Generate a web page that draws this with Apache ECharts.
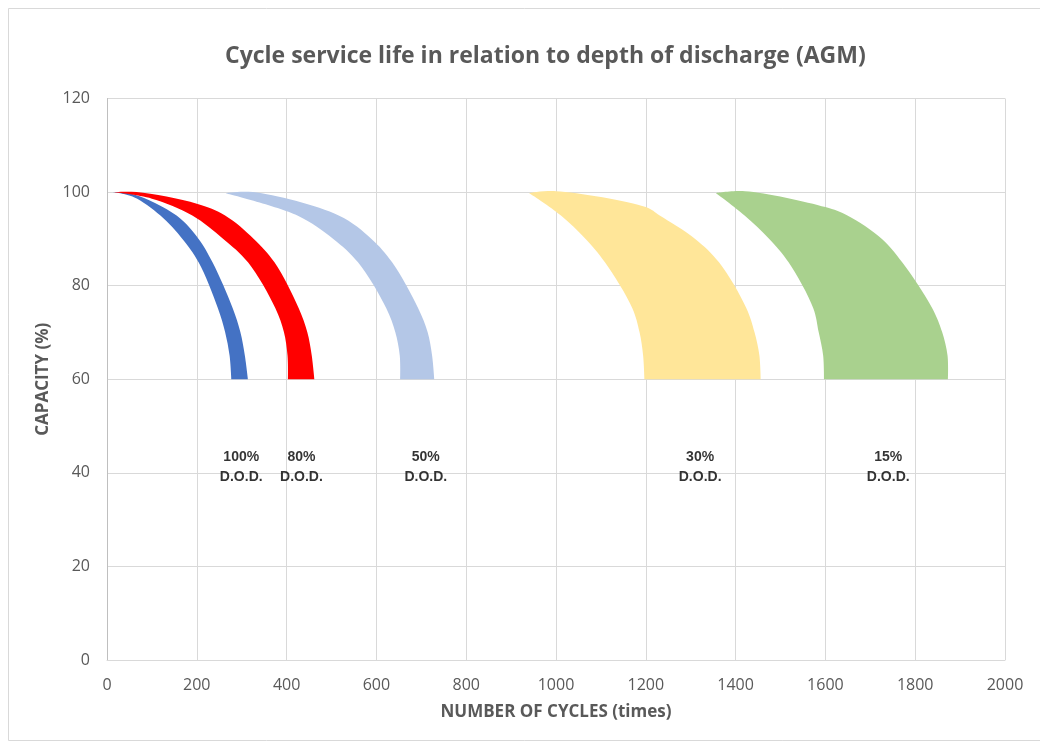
<!DOCTYPE html>
<html>
<head>
<meta charset="utf-8">
<script src="https://cdn.jsdelivr.net/npm/echarts@6/dist/echarts.min.js"></script>
<style>
  html, body { margin: 0; padding: 0; background: #fff; }
  #chart { width: 1040px; height: 747px; }
</style>
</head>
<body>
<div id="chart"></div>
<script>
// 每条带子：左（内）边、右（外）边，从顶部到 60% 处，读图估计
const dod100Inner = [[12, 100], [60, 98.9], [119, 95], [168, 90], [204, 85], [247, 75.2], [263, 70.1], [273, 65.1], [277, 60]]
const dod100Outer = [[12, 100], [60, 99.5], [155, 95], [204, 90], [235, 85], [280, 75.2], [297, 70.1], [307, 65.1], [314, 60]]
const dod80Inner = [[12, 100], [100, 98.6], [190, 95], [259, 90], [314, 85], [375, 75.2], [394, 70.1], [402, 65.1], [403, 60]]
const dod80Outer = [[12, 100], [66, 100], [200, 97.5], [263, 95], [327, 90], [373, 85], [427, 75.2], [446, 70.1], [456, 65.1], [462, 60]]
const dod50Inner = [[262, 99.8], [424, 95], [504, 90], [559, 85], [622, 75.2], [642, 70.1], [652, 65.1], [653, 60]]
const dod50Outer = [[262, 99.8], [325, 100], [516, 95], [589, 90], [635, 85], [693, 75.2], [714, 70.1], [724, 65.1], [729, 60]]
const dod30Inner = [[940, 99.8], [1011, 95], [1066, 90], [1109, 85], [1170, 75.2], [1186, 70.1], [1194, 65.1], [1197, 60]]
const dod30Outer = [[940, 99.8], [1000, 100.2], [1200, 96.8], [1231, 95], [1310, 90], [1363, 85], [1424, 75.2], [1442, 70.1], [1453, 65.1], [1456, 60]]
const dod15Inner = [[1356, 99.8], [1420, 95], [1475, 90], [1518, 85], [1573, 75.2], [1585, 70.1], [1595, 65.1], [1597, 60]]
const dod15Outer = [[1356, 99.8], [1421, 100.2], [1600, 96.8], [1649, 95], [1726, 90], [1771, 85], [1838, 75.2], [1860, 70.1], [1872, 65.1], [1873, 60]]

const bandLabels = ['100%\nD.O.D.', '80%\nD.O.D.', '50%\nD.O.D.', '30%\nD.O.D.', '15%\nD.O.D.']
const labelX = [299, 433, 710, 1321, 1740]
const labelY = [41.2, 41.2, 41.2, 41.2, 41.2]

const bands = [
  { inner: dod100Inner, outer: dod100Outer, color: '#4472C4' },
  { inner: dod80Inner, outer: dod80Outer, color: '#FF0000' },
  { inner: dod50Inner, outer: dod50Outer, color: '#B4C7E7' },
  { inner: dod30Inner, outer: dod30Outer, color: '#FFE699' },
  { inner: dod15Inner, outer: dod15Outer, color: '#A9D18E' }
]

// 向心 Catmull-Rom 转三次贝塞尔（点已是像素坐标），避免点距不均时打结
function splinePath(P, move) {
  const f = v => v.toFixed(2)
  const dist = (a, b) => Math.pow(Math.hypot(b[0] - a[0], b[1] - a[1]), 0.5)
  let d = (move ? 'M' : 'L') + f(P[0][0]) + ',' + f(P[0][1])
  for (let i = 0; i < P.length - 1; i++) {
    const p1 = P[i]
    const p2 = P[i + 1]
    const p0 = P[i - 1]
    const p3 = P[i + 2]
    const d2 = dist(p1, p2)
    let c1 = p1
    let c2 = p2
    if (p0) {
      const d1 = dist(p0, p1)
      if (d1 > 0) {
        const k = 3 * d1 * (d1 + d2)
        c1 = [0, 1].map(j => (d1 * d1 * p2[j] - d2 * d2 * p0[j] + (2 * d1 * d1 + 3 * d1 * d2 + d2 * d2) * p1[j]) / k)
      }
    }
    if (p3) {
      const d3 = dist(p2, p3)
      if (d3 > 0) {
        const k = 3 * d3 * (d3 + d2)
        c2 = [0, 1].map(j => (d3 * d3 * p1[j] - d2 * d2 * p3[j] + (2 * d3 * d3 + 3 * d3 * d2 + d2 * d2) * p2[j]) / k)
      }
    }
    d += 'C' + f(c1[0]) + ',' + f(c1[1]) + ' ' + f(c2[0]) + ',' + f(c2[1]) + ' ' + f(p2[0]) + ',' + f(p2[1])
  }
  return d
}

function renderBand(params, api) {
  const band = bands[params.dataIndex]
  const outer = band.outer.map(p => api.coord(p))
  const inner = band.inner.map(p => api.coord(p)).reverse()
  const d = splinePath(outer, true) + splinePath(inner, false) + 'Z'
  return {
    type: 'path',
    shape: { pathData: d },
    style: { fill: band.color, stroke: null }
  }
}

const chart = echarts.init(document.getElementById('chart'))
const gray = '#595959'

chart.setOption({
  backgroundColor: '#fff',
  animation: false,
  title: {
    text: 'Cycle service life in relation to depth of discharge (AGM)',
    left: 220,
    top: 40,
    textStyle: { fontFamily: 'Open Sans', fontSize: 23, fontWeight: 'bold', color: gray }
  },
  graphic: [{
    type: 'rect',
    shape: { x: 8.5, y: 8.5, width: 1040, height: 732 },
    style: { fill: null, stroke: '#D9D9D9', lineWidth: 1 },
    silent: true
  }],
  grid: { left: 107, right: 35, top: 98.5, bottom: 87 },
  xAxis: {
    type: 'value',
    min: 0,
    max: 2000,
    interval: 200,
    name: 'NUMBER OF CYCLES (times)',
    nameLocation: 'middle',
    nameGap: 44,
    nameTextStyle: { fontFamily: 'Open Sans', fontSize: 17, fontWeight: 'bold', color: gray },
    axisLine: { show: true, lineStyle: { color: '#D9D9D9' } },
    axisTick: { show: false },
    axisLabel: { fontFamily: 'Open Sans', fontSize: 16, color: gray, margin: 17, formatter: v => String(v) },
    splitLine: { show: true, lineStyle: { color: '#D9D9D9' } }
  },
  yAxis: {
    type: 'value',
    min: 0,
    max: 120,
    interval: 20,
    name: 'CAPACITY (%)',
    nameLocation: 'middle',
    nameGap: 50,
    nameTextStyle: { fontFamily: 'Open Sans', fontSize: 17, fontWeight: 'bold', color: gray },
    axisLine: { show: true, lineStyle: { color: '#BFBFBF' } },
    axisTick: { show: false },
    axisLabel: { fontFamily: 'Open Sans', fontSize: 16, color: gray, margin: 17 },
    splitLine: { show: true, lineStyle: { color: '#D9D9D9' } }
  },
  series: [
    {
      type: 'custom',
      renderItem: renderBand,
      data: bands.map((b, i) => [i]),
      encode: { x: -1, y: -1 },
      silent: true,
      z: 2
    },
    {
      type: 'scatter',
      symbolSize: 0,
      silent: true,
      data: bandLabels.map((t, i) => ({ value: [labelX[i], labelY[i]], name: t })),
      label: {
        show: true,
        position: 'inside',
        formatter: p => p.name,
        fontFamily: 'Liberation Sans',
        fontSize: 14,
        fontWeight: 'bold',
        color: '#000',
        lineHeight: 20,
        align: 'center'
      },
      z: 3
    }
  ]
})
</script>
</body>
</html>
